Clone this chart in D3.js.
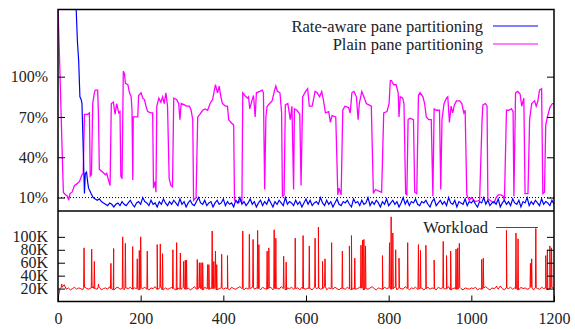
<!DOCTYPE html>
<html>
<head>
<meta charset="utf-8">
<script src="https://cdn.jsdelivr.net/npm/d3@7"></script>
<style>
  body { margin: 0; background: #fff; }
  svg { display: block; }
</style>
</head>
<body>
<div id="chart"></div>
<script>
// Time axis ticks (seconds)
var xTicks = [0, 200, 400, 600, 800, 1000, 1200];
var latencyTicks = [10, 40, 70, 100];
var workloadTicks = [20000, 40000, 60000, 80000, 100000];

// Rate-aware pane partitioning: steep start, then values every 5 s from t=85
var rateAwareHead = [[38, 190], [44, 150], [47, 126], [50, 112], [53, 85], [56, 83], [58, 80],
  [64, 13], [66, 28], [69, 29], [72, 21], [74, 17], [77, 15], [80, 13]];
var rateAwareStart = 85;
var rateAwareValues = [
  10, 9, 8, 9, 7, 6, 5, 4, 6, 5, 3, 5, 6, 4, 7, 5, 4, 6, 8, 5,
  3, 6, 7, 5, 10, 7, 6, 4, 8, 5, 6, 3, 7, 5, 9, 6, 4, 7, 5, 8,
  6, 4, 9, 5, 7, 3, 6, 8, 5, 4, 7, 10, 6, 5, 8, 4, 6, 7, 3, 6,
  8, 5, 6, 9, 4, 7, 5, 6, 3, 8, 6, 10, 5, 7, 4, 6, 9, 5, 7, 3,
  6, 8, 4, 7, 5, 9, 6, 3, 7, 5, 8, 6, 4, 10, 5, 7, 6, 4, 8, 5,
  7, 3, 6, 9, 5, 8, 4, 6, 7, 5, 10, 6, 4, 8, 5, 7, 3, 6, 9, 5,
  4, 7, 6, 8, 5, 3, 9, 6, 7, 4, 8, 5, 6, 10, 4, 7, 5, 8, 6, 3,
  7, 5, 9, 4, 6, 8, 5, 7, 3, 6, 10, 5, 8, 4, 7, 6, 9, 5, 4, 7,
  6, 8, 5, 3, 7, 9, 4, 6, 8, 5, 7, 4, 10, 6, 5, 8, 3, 7, 6, 5,
  9, 4, 7, 6, 8, 5, 3, 7, 6, 10, 5, 8, 4, 6, 7, 5, 9, 3, 6, 8,
  5, 7, 4, 9, 6, 5, 8, 3, 7, 6, 10, 4, 7, 5, 8, 6, 4, 9, 5, 7,
  6, 4, 8, 5
];

// Plain pane partitioning [time, percent]
var plainPane = [
  [0, 152], [5, 100], [10, 45], [13, 14], [15, 13], [19, 12], [23, 11], [26, 8], [29, 13], [34, 14],
  [40, 19], [45, 20], [52, 22], [58, 27], [61, 28], [64, 72], [72, 72], [76, 73], [78, 26], [81, 27],
  [84, 80], [88, 88], [90, 90], [96, 90], [98, 70], [100, 31], [108, 29], [115, 27], [118, 28], [123, 22],
  [126, 19], [129, 80], [134, 81], [138, 72], [142, 80], [147, 73], [150, 74], [152, 26], [155, 24], [158, 104],
  [161, 102], [163, 95], [169, 94], [173, 88], [177, 85], [179, 75], [181, 23], [182, 70], [189, 70], [193, 70],
  [195, 86], [201, 88], [205, 84], [209, 83], [213, 78], [217, 74], [225, 73], [229, 73], [231, 17], [235, 22],
  [237, 14], [239, 78], [244, 84], [249, 81], [253, 85], [257, 80], [261, 88], [265, 78], [269, 24], [273, 19],
  [277, 18], [280, 84], [287, 83], [292, 80], [295, 68], [298, 80], [306, 79], [311, 78], [318, 78], [322, 75],
  [326, 68], [328, 8], [334, 10], [338, 70], [343, 72], [350, 75], [356, 76], [362, 75], [368, 80], [374, 83],
  [381, 94], [386, 88], [390, 93], [394, 85], [398, 80], [405, 78], [410, 78], [413, 68], [418, 66], [425, 64],
  [427, 8], [432, 7], [437, 6], [442, 8], [445, 7], [447, 88], [452, 86], [458, 84], [461, 85], [464, 76],
  [469, 82], [473, 86], [477, 70], [480, 88], [488, 89], [494, 90], [497, 88], [500, 16], [503, 70], [506, 78],
  [512, 80], [518, 82], [524, 90], [527, 93], [531, 89], [537, 88], [541, 73], [543, 11], [547, 12], [550, 79],
  [556, 80], [562, 68], [566, 78], [570, 16], [572, 76], [578, 75], [585, 72], [588, 19], [592, 85], [599, 89],
  [604, 91], [608, 78], [615, 78], [622, 89], [627, 88], [633, 85], [638, 89], [642, 83], [647, 73], [655, 74],
  [659, 66], [663, 71], [672, 70], [677, 12], [680, 17], [685, 12], [689, 75], [694, 78], [703, 77], [707, 73],
  [711, 88], [716, 89], [722, 85], [726, 68], [729, 80], [735, 89], [740, 85], [746, 80], [752, 79], [758, 78],
  [763, 13], [768, 16], [775, 15], [783, 14], [788, 73], [796, 74], [801, 80], [804, 97], [807, 97], [812, 94],
  [818, 94], [823, 88], [825, 70], [828, 85], [834, 84], [837, 80], [841, 13], [844, 12], [847, 68], [852, 69],
  [860, 68], [863, 14], [868, 13], [872, 86], [876, 88], [883, 85], [887, 80], [891, 70], [897, 68], [903, 68],
  [907, 11], [910, 76], [915, 75], [923, 75], [926, 16], [929, 68], [934, 80], [940, 84], [943, 85], [947, 66],
  [951, 78], [955, 73], [959, 79], [964, 82], [972, 82], [977, 80], [982, 73], [985, 75], [989, 12], [995, 8],
  [1000, 10], [1010, 7], [1020, 8], [1026, 68], [1028, 79], [1034, 80], [1038, 78], [1040, 9], [1045, 8], [1055, 6],
  [1060, 10], [1065, 12], [1072, 12], [1077, 11], [1080, 7], [1085, 75], [1090, 75], [1097, 76], [1101, 74], [1103, 11],
  [1107, 88], [1112, 89], [1118, 87], [1122, 78], [1127, 84], [1130, 13], [1137, 13], [1141, 68], [1146, 80], [1153, 82],
  [1157, 78], [1161, 82], [1165, 90], [1170, 91], [1173, 13], [1177, 14], [1180, 64], [1184, 70], [1190, 77], [1196, 80],
  [1200, 80]
];

// Workload baseline, in K tuples/s, one value every 5 s
var workloadStep = 5;
var workloadBase = [
  5, 20, 22, 26, 19, 21, 18, 20, 22, 19, 21, 20, 18, 22, 20, 19, 21, 23, 20, 19,
  22, 18, 20, 21, 19, 23, 20, 18, 21, 22, 19, 20, 18, 21, 20, 22, 19, 21, 20, 18,
  21, 20, 22, 19, 18, 21, 20, 23, 19, 20, 22, 18, 21, 19, 20, 22, 20, 18, 21, 19,
  20, 22, 19, 21, 18, 20, 23, 19, 21, 20, 18, 22, 20, 19, 21, 20, 22, 18, 20, 21,
  19, 21, 20, 18, 22, 20, 19, 21, 23, 20, 18, 21, 19, 20, 22, 19, 21, 20, 18, 22,
  20, 19, 21, 22, 18, 20, 21, 19, 23, 20, 18, 21, 20, 22, 19, 20, 21, 18, 22, 20,
  19, 21, 20, 18, 22, 20, 21, 19, 20, 23, 18, 21, 20, 19, 22, 20, 18, 21, 20, 19,
  22, 20, 18, 21, 19, 20, 22, 21, 18, 20, 19, 21, 23, 20, 18, 21, 20, 19, 22, 20,
  21, 19, 20, 22, 18, 21, 20, 19, 23, 20, 18, 21, 20, 22, 19, 20, 21, 18, 20, 22,
  19, 21, 20, 18, 22, 20, 21, 19, 20, 23, 18, 20, 21, 19, 22, 20, 18, 21, 20, 19,
  21, 20, 22, 18, 20, 19, 21, 23, 20, 18, 21, 20, 22, 19, 24, 20, 18, 21, 20, 22,
  19, 21, 20, 18, 22, 20, 21, 19, 20, 22, 18, 21, 20, 19, 22, 20, 21, 18, 20, 22,
  20
];

// Workload bursts [time, K tuples/s]
var workloadSpikes = [
  [9, 27], [63, 83], [81.5, 81], [88, 62], [98, 27], [128, 59], [134.7, 82], [156.5, 100], [163, 90], [180.6, 85],
  [191.8, 66], [196.7, 79], [200, 100], [216, 78], [240, 88], [247.5, 89], [253, 74], [278, 80], [287, 91], [296, 75],
  [304, 62], [308, 64], [311, 64], [337, 65], [342, 60], [346, 60], [350, 60], [362, 57], [365, 57], [373, 109],
  [377, 62], [381, 78], [384, 57], [396, 73], [410, 71], [447, 109], [463, 104], [472, 96], [483, 110], [486, 88],
  [506, 78], [510, 83], [523, 111], [527, 98], [546, 70], [552, 61], [574, 98], [593, 102], [608, 86], [622, 98],
  [630, 115], [640, 62], [646, 66], [662, 91], [688, 78], [705, 86], [710, 102], [718, 67], [733, 87], [737, 95],
  [740, 96], [744, 86], [785, 71], [802, 91], [806, 131], [810, 106], [817, 80], [825, 67], [846, 91], [872, 88],
  [877, 79], [890, 87], [910, 64], [932, 93], [940, 71], [950, 78], [963, 81], [967, 83], [971, 90], [1025, 65],
  [1029, 67], [1061, 24], [1085, 110], [1108, 106], [1113, 97], [1143, 59], [1146, 66], [1156, 113], [1180, 71], [1184, 80],
  [1190, 86], [1194, 83]
];

// SVG area
var svgWidth = 575;
var svgHeight = 329;
var plotLeft = 58;
var plotRight = 554;
var topY0 = 9.5;
var splitY = 211;
var bottomY1 = 301.5;
var fontFamily = "'Liberation Serif', 'Times New Roman', serif";

var svg = d3.select("#chart")
  .append("svg")
  .attr("width", svgWidth)
  .attr("height", svgHeight);

var xScale = d3.scaleLinear().domain([0, 1200]).range([plotLeft, plotRight]);
var yTop = d3.scaleLinear().domain([0, 150]).range([splitY, topY0]);
var yBottom = d3.scaleLinear().domain([0, 140000]).range([bottomY1, splitY]);

// clip paths for the two panels
var defs = svg.append("defs");
defs.append("clipPath").attr("id", "clipTop")
  .append("rect")
  .attr("x", plotLeft).attr("y", topY0)
  .attr("width", plotRight - plotLeft).attr("height", splitY - topY0);
defs.append("clipPath").attr("id", "clipBottom")
  .append("rect")
  .attr("x", plotLeft).attr("y", splitY)
  .attr("width", plotRight - plotLeft).attr("height", bottomY1 - splitY);

// build series
var rateAware = rateAwareHead.concat(rateAwareValues.map(function(v, i) {
  return [rateAwareStart + i * 5, v];
}));

var workload = workloadBase.map(function(v, i) { return [i * workloadStep, v * 1000]; });
workloadSpikes.forEach(function(s) {
  var base = workloadBase[Math.round(s[0] / workloadStep)] * 1000;
  workload.push([s[0] - 1, base], [s[0], s[1] * 1000], [s[0] + 1, base]);
});
workload.sort(function(a, b) { return a[0] - b[0]; });

var topLine = d3.line()
  .x(function(d) { return xScale(d[0]); })
  .y(function(d) { return yTop(d[1]); });

var bottomLine = d3.line()
  .x(function(d) { return xScale(d[0]); })
  .y(function(d) { return yBottom(d[1]); });

// 10% reference line
svg.append("line")
  .attr("x1", plotLeft).attr("x2", plotRight)
  .attr("y1", yTop(10)).attr("y2", yTop(10))
  .attr("stroke", "#000")
  .attr("stroke-width", 1)
  .attr("stroke-dasharray", "1,2");

var topGroup = svg.append("g").attr("clip-path", "url(#clipTop)");

topGroup.append("path")
  .datum(plainPane)
  .attr("d", topLine)
  .attr("fill", "none")
  .attr("stroke", "#ff00ff")
  .attr("stroke-width", 1.3);

topGroup.append("path")
  .datum(rateAware)
  .attr("d", topLine)
  .attr("fill", "none")
  .attr("stroke", "#0000ff")
  .attr("stroke-width", 1.2);

svg.append("g").attr("clip-path", "url(#clipBottom)")
  .append("path")
  .datum(workload)
  .attr("d", bottomLine)
  .attr("fill", "none")
  .attr("stroke", "#ff0000")
  .attr("stroke-width", 1);

// axes
function styleAxis(g) {
  g.select(".domain").remove();
  g.attr("font-family", fontFamily).attr("font-size", 16);
  g.selectAll("line").attr("stroke", "#000");
  g.selectAll("text").attr("fill", "#222");
}

svg.append("g")
  .attr("transform", "translate(" + plotLeft + ",0)")
  .call(d3.axisLeft(yTop).tickValues(latencyTicks)
    .tickFormat(function(d) { return d + "%"; })
    .tickSizeInner(-7).tickSizeOuter(0).tickPadding(10))
  .call(styleAxis);

svg.append("g")
  .attr("transform", "translate(" + plotRight + ",0)")
  .call(d3.axisRight(yTop).tickValues(latencyTicks)
    .tickFormat("").tickSizeInner(-7).tickSizeOuter(0))
  .call(styleAxis);

svg.append("g")
  .attr("transform", "translate(" + plotLeft + ",0)")
  .call(d3.axisLeft(yBottom).tickValues(workloadTicks)
    .tickFormat(function(d) { return (d / 1000) + "K"; })
    .tickSizeInner(-7).tickSizeOuter(0).tickPadding(10))
  .call(styleAxis);

svg.append("g")
  .attr("transform", "translate(" + plotRight + ",0)")
  .call(d3.axisRight(yBottom).tickValues(workloadTicks)
    .tickFormat("").tickSizeInner(-7).tickSizeOuter(0))
  .call(styleAxis);

svg.append("g")
  .attr("transform", "translate(0," + bottomY1 + ")")
  .call(d3.axisBottom(xScale).tickValues(xTicks)
    .tickFormat(function(d) { return String(d); })
    .tickSizeInner(-6).tickSizeOuter(0).tickPadding(11))
  .call(styleAxis);

// frame
svg.append("rect")
  .attr("x", plotLeft).attr("y", topY0)
  .attr("width", plotRight - plotLeft).attr("height", bottomY1 - topY0)
  .attr("fill", "none")
  .attr("stroke", "#000")
  .attr("stroke-width", 1.5);

svg.append("line")
  .attr("x1", plotLeft).attr("x2", plotRight)
  .attr("y1", splitY).attr("y2", splitY)
  .attr("stroke", "#000")
  .attr("stroke-width", 1.5);

// legends
var legendItems = [
  { label: "Rate-aware pane partitioning", color: "#0000ff", y: 26, textEnd: 483, x1: 493 },
  { label: "Plain pane partitioning", color: "#ff00ff", y: 44, textEnd: 483, x1: 493 },
  { label: "Workload", color: "#ff0000", y: 227.5, textEnd: 488, x1: 496 }
];

legendItems.forEach(function(item) {
  svg.append("text")
    .attr("x", item.textEnd)
    .attr("y", item.y + 5.5)
    .attr("text-anchor", "end")
    .attr("font-family", fontFamily)
    .attr("font-size", 16.5)
    .attr("fill", "#222")
    .text(item.label);

  svg.append("line")
    .attr("x1", item.x1).attr("x2", 538)
    .attr("y1", item.y).attr("y2", item.y)
    .attr("stroke", item.color)
    .attr("stroke-width", 1.2);
});
</script>
</body>
</html>
